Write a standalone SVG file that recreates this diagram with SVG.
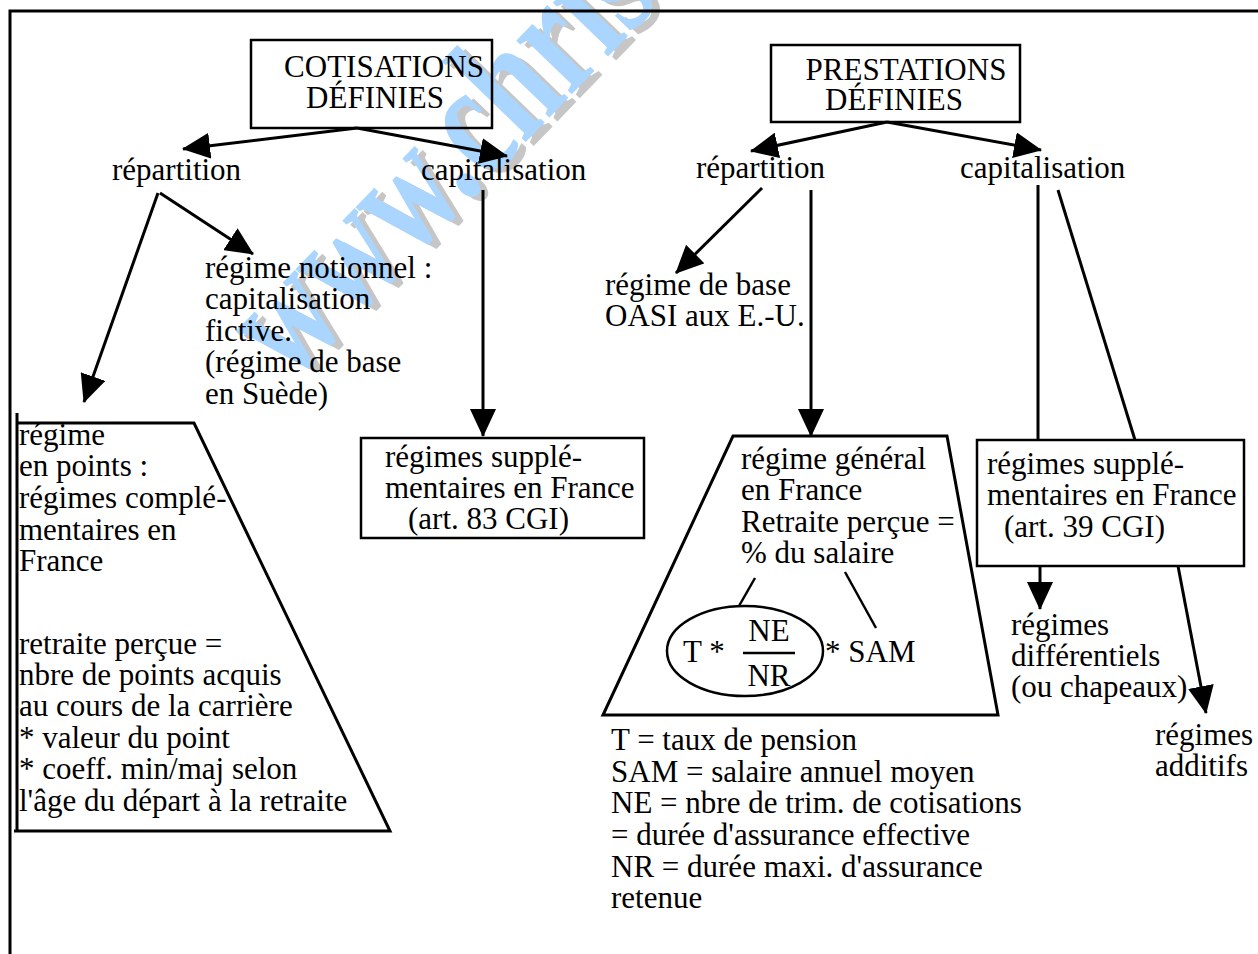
<svg xmlns="http://www.w3.org/2000/svg" width="1258" height="954" viewBox="0 0 1258 954">
  <style>
    text { font-family: "Liberation Serif", "Times New Roman", serif; font-size: 31px; fill: #000; }
    .box { fill: none; stroke: #000; stroke-width: 2.5; }
    .edge { fill: none; stroke: #000; stroke-width: 3; }
    .thin { fill: none; stroke: #000; stroke-width: 2.5; }
    text.wm { font-family: "Liberation Serif", serif; font-weight: bold; font-size: 168px; fill: #a9d5ff; }
    text.wm-shade { font-family: "Liberation Serif", serif; font-weight: bold; font-size: 168px; fill: #c6c6c6; }
  </style>
  <defs>
    <marker id="head" viewBox="0 0 28 26" refX="27" refY="13" markerWidth="28" markerHeight="26" markerUnits="userSpaceOnUse" orient="auto">
      <path d="M0,0 L28,13 L0,26 z" fill="#000"/>
    </marker>
  </defs>

  <rect width="1258" height="954" fill="#fff"/>

  <!-- site stamp, under the drawing -->
  <g id="stamp">
    <text class="wm-shade" transform="translate(299 389) rotate(-46) scale(0.71 1)">www.chris</text>
    <text class="wm" transform="translate(291 385) rotate(-46) scale(0.71 1)">www.chris</text>
  </g>

  <!-- page frame -->
  <path d="M10,954 V11 H1258" fill="none" stroke="#000" stroke-width="3"/>

  <!-- connectors -->
  <g id="connectors">
    <line class="edge" x1="357" y1="128" x2="183" y2="149" marker-end="url(#head)"/>
    <line class="edge" x1="357" y1="128" x2="507" y2="156" marker-end="url(#head)"/>
    <line class="edge" x1="158" y1="193" x2="84" y2="402" marker-end="url(#head)"/>
    <line class="edge" x1="160" y1="193" x2="253" y2="254" marker-end="url(#head)"/>
    <line class="edge" x1="483" y1="190" x2="483" y2="436" marker-end="url(#head)"/>
    <line class="edge" x1="887" y1="122" x2="751" y2="151" marker-end="url(#head)"/>
    <line class="edge" x1="887" y1="122" x2="1041" y2="150" marker-end="url(#head)"/>
    <line class="edge" x1="762" y1="188" x2="676" y2="273" marker-end="url(#head)"/>
    <line class="edge" x1="811" y1="190" x2="811" y2="436" marker-end="url(#head)"/>
    <line class="edge" x1="1038" y1="185" x2="1038" y2="440"/>
    <line class="edge" x1="1058" y1="190" x2="1135" y2="440"/>
    <line class="edge" x1="1040" y1="566" x2="1040" y2="609" marker-end="url(#head)"/>
    <line class="edge" x1="1178" y1="566" x2="1206" y2="713" marker-end="url(#head)"/>
  </g>

  <!-- defined contributions -->
  <g id="cotisations">
    <rect class="box" x="251" y="40" width="241" height="88"/>
    <text x="384" y="77" text-anchor="middle">COTISATIONS</text>
    <text x="375" y="108" text-anchor="middle">DÉFINIES</text>
  </g>
  <g id="cot-repartition"><text x="112" y="180">répartition</text></g>
  <g id="cot-capitalisation"><text x="421" y="180">capitalisation</text></g>
  <g id="notionnel">
    <text x="205" y="278">régime notionnel :</text>
    <text x="205" y="309">capitalisation</text>
    <text x="205" y="341">fictive.</text>
    <text x="205" y="372">(régime de base</text>
    <text x="205" y="404">en Suède)</text>
  </g>
  <g id="points">
    <path class="edge" d="M17,413 V831 M17,423 H194 L390,831 H14"/>
    <text x="19" y="445">régime</text>
    <text x="19" y="476">en points :</text>
    <text x="19" y="508">régimes complé-</text>
    <text x="19" y="540">mentaires en</text>
    <text x="19" y="571">France</text>
    <text x="19" y="654">retraite perçue =</text>
    <text x="19" y="685">nbre de points acquis</text>
    <text x="19" y="716">au cours de la carrière</text>
    <text x="19" y="748">* valeur du point</text>
    <text x="19" y="779">* coeff. min/maj selon</text>
    <text x="19" y="811">l'âge du départ à la retraite</text>
  </g>
  <g id="art83">
    <rect class="box" x="361" y="438" width="283" height="100"/>
    <text x="385" y="467">régimes supplé-</text>
    <text x="385" y="498">mentaires en France</text>
    <text x="408" y="529">(art. 83 CGI)</text>
  </g>

  <!-- defined benefits -->
  <g id="prestations">
    <rect class="box" x="771" y="45" width="249" height="77"/>
    <text x="906" y="80" text-anchor="middle">PRESTATIONS</text>
    <text x="894" y="110" text-anchor="middle">DÉFINIES</text>
  </g>
  <g id="pre-repartition"><text x="696" y="178">répartition</text></g>
  <g id="pre-capitalisation"><text x="960" y="178">capitalisation</text></g>
  <g id="oasi">
    <text x="605" y="295">régime de base</text>
    <text x="605" y="326">OASI aux E.-U.</text>
  </g>
  <g id="general">
    <path class="edge" d="M733,436 H947 L998,715 H603 Z"/>
    <text x="741" y="469">régime général</text>
    <text x="741" y="500">en France</text>
    <text x="741" y="532">Retraite perçue =</text>
    <text x="741" y="563">% du salaire</text>
    <line class="thin" x1="755" y1="578" x2="739" y2="606"/>
    <line class="thin" x1="845" y1="572" x2="876" y2="628"/>
    <ellipse class="thin" cx="745" cy="651" rx="78" ry="45"/>
    <text x="683" y="662">T *</text>
    <text x="769" y="641" text-anchor="middle">NE</text>
    <line x1="743" y1="653" x2="795" y2="653" stroke="#000" stroke-width="2.5"/>
    <text x="769" y="686" text-anchor="middle">NR</text>
    <text x="825" y="662">* SAM</text>
  </g>
  <g id="legend">
    <text x="611" y="750">T = taux de pension</text>
    <text x="611" y="782">SAM = salaire annuel moyen</text>
    <text x="611" y="813">NE = nbre de trim. de cotisations</text>
    <text x="611" y="845">= durée d'assurance effective</text>
    <text x="611" y="877">NR = durée maxi. d'assurance</text>
    <text x="611" y="908">retenue</text>
  </g>
  <g id="art39">
    <rect class="box" x="977" y="440" width="267" height="126"/>
    <text x="987" y="474">régimes supplé-</text>
    <text x="987" y="505">mentaires en France</text>
    <text x="1004" y="537">(art. 39 CGI)</text>
  </g>
  <g id="differentiels">
    <text x="1011" y="635">régimes</text>
    <text x="1011" y="666">différentiels</text>
    <text x="1011" y="697">(ou chapeaux)</text>
  </g>
  <g id="additifs">
    <text x="1155" y="745">régimes</text>
    <text x="1155" y="776">additifs</text>
  </g>
</svg>
